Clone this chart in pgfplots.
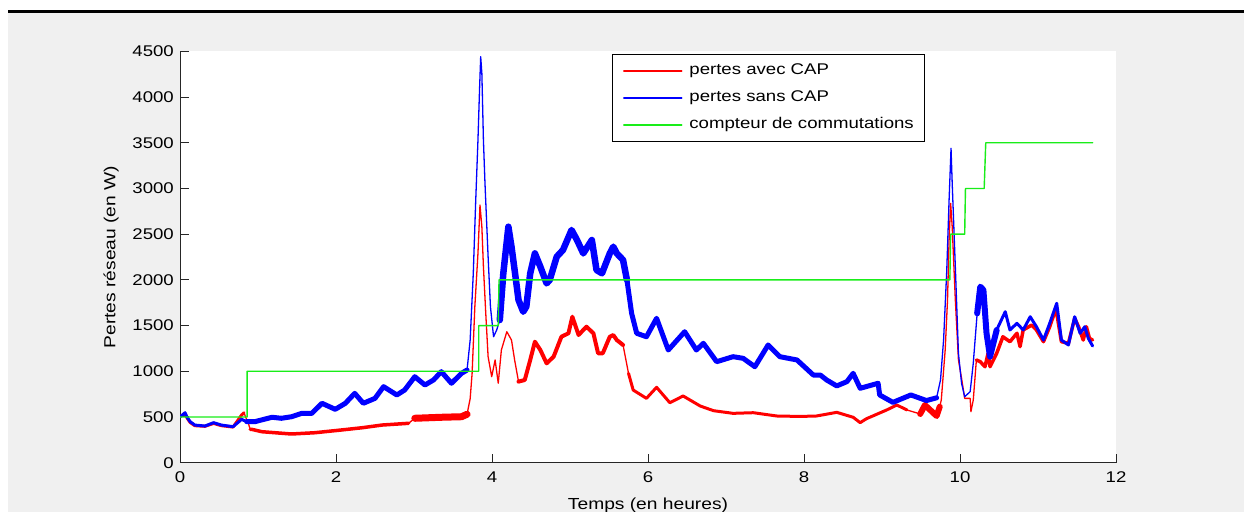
\documentclass[border=0pt]{standalone}
\usepackage{fontspec}
\setmainfont{Liberation Sans}[FakeStretch=1.2]
\usepackage{pgfplots}
\usepackage{pgfplotstable}
\pgfplotsset{compat=1.18}
\definecolor{figbg}{RGB}{240,240,240}
\definecolor{mred}{rgb}{1,0,0}
\definecolor{mblue}{rgb}{0,0,1}
\definecolor{mgreen}{rgb}{0.1,0.93,0.1}
\newcommand\tfont{\fontsize{15.5bp}{18bp}\selectfont}
\newcommand\lfont{\fontsize{16bp}{19bp}\selectfont}

% pertes sans CAP
\pgfplotstableread{
x y
0 505
0.03 520
0.064 547
0.09 500
0.13 449
0.19 412
0.32 401
0.43 438
0.53 412
0.68 394
0.79 474
0.855 449
0.96 449
1.18 497
1.30 486
1.43 503
1.56 540
1.69 540
1.82 650
1.99 584
2.12 650
2.24 759
2.35 650
2.50 704
2.61 832
2.78 741
2.88 795
3.01 941
3.14 850
3.25 905
3.35 996
3.48 869
3.61 978
3.68 1014
3.72 1342
3.76 2072
3.79 2838
3.82 3530
3.84 4077
3.855 4442
3.87 4260
3.89 3530
3.91 3057
3.95 2254
3.98 1707
4.02 1378
4.06 1452
4.10 1561
4.145 2072
4.21 2582
4.25 2363
4.29 2108
4.34 1780
4.40 1652
4.44 1707
4.49 2072
4.55 2290
4.62 2144
4.70 1962
4.74 1999
4.83 2254
4.91 2327
5.02 2546
5.09 2436
5.17 2290
5.28 2436
5.34 2108
5.41 2072
5.51 2290
5.555 2363
5.60 2290
5.68 2218
5.73 1999
5.79 1634
5.855 1416
5.98 1378
6.11 1580
6.26 1233
6.47 1433
6.62 1233
6.71 1306
6.88 1105
7.09 1160
7.22 1142
7.37 1050
7.54 1288
7.69 1160
7.91 1124
8.12 959
8.21 959
8.29 905
8.42 840
8.55 887
8.63 978
8.72 814
8.95 869
8.97 741
9.14 660
9.37 741
9.57 680
9.70 710
9.75 905
9.79 1350
9.83 2100
9.86 2874
9.885 3440
9.90 3057
9.94 2144
9.98 1197
10.02 869
10.06 722
10.13 777
10.17 1087
10.22 1634
10.26 1926
10.30 1890
10.34 1416
10.385 1160
10.47 1452
10.58 1652
10.64 1452
10.73 1525
10.81 1452
10.90 1597
10.98 1488
11.07 1342
11.15 1525
11.24 1744
11.30 1342
11.39 1288
11.47 1597
11.54 1416
11.60 1488
11.645 1360
11.70 1277
}\bluedata

% pertes avec CAP
\pgfplotstableread{
x y
0 505
0.03 520
0.064 540
0.09 490
0.13 440
0.19 405
0.32 398
0.43 430
0.53 405
0.68 390
0.79 522
0.82 547
0.855 470
0.88 420
0.90 365
0.92 365
1.05 339
1.43 314
1.73 328
2.07 358
2.34 383
2.59 412
2.93 431
3.01 486
3.35 497
3.61 503
3.68 530
3.72 700
3.745 978
3.78 1707
3.82 2290
3.846 2819
3.87 2582
3.89 2144
3.92 1634
3.95 1160
3.996 941
4.04 1124
4.08 869
4.12 1233
4.19 1433
4.25 1342
4.29 1124
4.34 887
4.42 905
4.49 1124
4.55 1324
4.62 1233
4.70 1087
4.79 1160
4.89 1378
4.98 1416
5.03 1597
5.11 1397
5.21 1488
5.30 1416
5.36 1197
5.42 1197
5.51 1378
5.555 1397
5.60 1342
5.68 1288
5.75 978
5.81 795
5.98 704
6.11 825
6.28 656
6.45 730
6.67 620
6.84 569
7.09 540
7.35 547
7.65 511
7.95 506
8.16 511
8.42 551
8.63 497
8.72 438
8.80 481
9.06 577
9.19 631
9.32 577
9.49 533
9.55 631
9.70 511
9.74 613
9.76 686
9.81 1233
9.84 1780
9.86 2436
9.88 2838
9.90 2582
9.94 1780
9.98 1124
10.02 923
10.06 704
10.13 704
10.14 558
10.17 686
10.21 1124
10.26 1105
10.32 1050
10.36 1197
10.385 1050
10.47 1197
10.55 1378
10.64 1324
10.73 1416
10.77 1270
10.81 1452
10.92 1506
10.98 1452
11.07 1324
11.15 1488
11.23 1689
11.30 1324
11.39 1306
11.47 1580
11.52 1488
11.58 1342
11.62 1488
11.66 1360
11.70 1342
}\reddata

% compteur de commutations
\pgfplotstableread{
x y
0 500
0.86 500
0.86 1000
3.83 1000
3.83 1500
4.08 1500
4.09 2000
9.87 2000
9.88 2500
10.06 2500
10.07 3000
10.31 3000
10.33 3500
11.70 3500
}\greendata

\begin{document}
\begin{tikzpicture}
\path[use as bounding box] (0,0) rectangle (1244bp,512bp);
\clip (0,0) rectangle (1244bp,512bp);
\fill[white] (0,0) rectangle (1244bp,512bp);
\fill[figbg] (8bp,0) rectangle (1244bp,499bp);
\fill[black] (8bp,499bp) rectangle (1244bp,502bp);
\begin{axis}[
  at={(180bp,49.3bp)}, anchor=south west,
  scale only axis, width=936bp, height=411.3bp,
  xmin=0, xmax=12, ymin=0, ymax=4500,
  xtick={0,2,...,12}, ytick={0,500,...,4500},
  axis x line*=bottom, axis y line*=left,
  axis line style={-, black!85, line width=1bp},
  tick align=inside, major tick length=9bp,
  tick style={black!85, line width=1bp},
  axis background/.style={fill=white},
  /pgf/number format/assume math mode=true,
  /pgf/number format/set thousands separator={},
  ticklabel style={font=\tfont, text=black},
  yticklabel style={inner sep=0pt, xshift=-6bp},
  xticklabel style={inner sep=0pt, yshift=-9bp},
  xlabel={Temps (en heures)},
  ylabel={Pertes réseau (en W)},
  xlabel style={font=\lfont, at={(axis description cs:0.5,-0.1126)}, anchor=base},
  ylabel style={font=\lfont, at={(axis description cs:-0.0737,0.5)}, anchor=center},
  legend cell align=left,
  legend image code/.code={\draw[#1, line width=1.3bp] (0bp,0bp) -- (58bp,0bp);},
  legend style={at={(rel axis cs:0.4612,0.9937)}, anchor=north west,
    draw=black, line width=0.9bp, fill=white, font=\tfont,
    inner xsep=11bp, inner ysep=9bp, row sep=12bp,
    nodes={inner sep=0bp, text height=11.5bp, text depth=3.5bp},
    /tikz/every odd column/.append style={column sep=7bp}},
  every axis plot/.append style={line cap=round, line join=round},
]
% red
\addplot[mred, line width=1.3bp] table {\reddata};
\addlegendentry{pertes avec CAP}
\addplot[mred, line width=3bp, forget plot, restrict x to domain=0:0.85] table {\reddata};
\addplot[mred, line width=3.5bp, forget plot, restrict x to domain=0.9:3.0] table {\reddata};
\addplot[mred, line width=7bp, forget plot, restrict x to domain=3.0:3.7] table {\reddata};
\addplot[mred, line width=4bp, forget plot, restrict x to domain=4.3:5.7] table {\reddata};
\addplot[mred, line width=3bp, forget plot, restrict x to domain=5.75:9.4] table {\reddata};
\addplot[mred, line width=6bp, forget plot, restrict x to domain=9.4:9.75] table {\reddata};
\addplot[mred, line width=3.5bp, forget plot, restrict x to domain=10.2:11.7] table {\reddata};
% blue
\addplot[mblue, line width=1.3bp] table {\bluedata};
\addlegendentry{pertes sans CAP}
\addplot[mblue, line width=3bp, forget plot, restrict x to domain=0:0.96] table {\bluedata};
\addplot[mblue, line width=5bp, forget plot, restrict x to domain=0.85:3.7] table {\bluedata};
\addplot[mblue, line width=6.5bp, forget plot, restrict x to domain=4.1:5.75] table {\bluedata};
\addplot[mblue, line width=5bp, forget plot, restrict x to domain=5.73:9.7] table {\bluedata};
\addplot[mblue, line width=6bp, forget plot, restrict x to domain=10.2:10.47] table {\bluedata};
\addplot[mblue, line width=3bp, forget plot, restrict x to domain=10.45:11.7] table {\bluedata};
% green
\addplot[mgreen, line width=1.4bp] table {\greendata};
\addlegendentry{compteur de commutations}
\end{axis}
\end{tikzpicture}
\end{document}
